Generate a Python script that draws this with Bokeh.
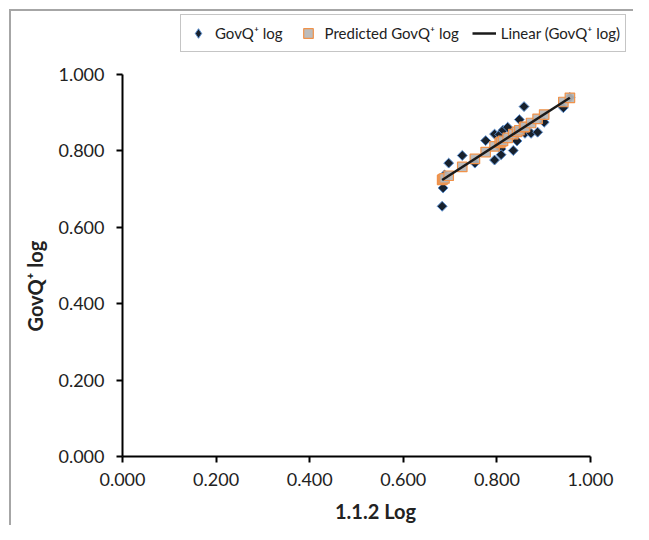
import math
from bokeh.plotting import figure
from bokeh.models import Legend, LegendItem, Range1d, FixedTicker, NumeralTickFormatter, Title
from bokeh.embed import file_html
from bokeh.resources import INLINE

# Observed values (1.1.2 Log vs GovQ+ log)
obs_x = [0.683, 0.685, 0.688, 0.697, 0.726, 0.753, 0.776, 0.795, 0.795, 0.806, 0.809, 0.809,
         0.813, 0.823, 0.835, 0.843, 0.848, 0.858, 0.860, 0.873, 0.887, 0.901, 0.942, 0.956]
obs_y = [0.655, 0.703, 0.737, 0.768, 0.788, 0.768, 0.827, 0.844, 0.776, 0.843, 0.805, 0.790,
         0.854, 0.862, 0.801, 0.826, 0.882, 0.916, 0.846, 0.846, 0.849, 0.875, 0.913, 0.940]

# Predicted values
pred_x = [0.683, 0.685, 0.688, 0.697, 0.726, 0.753, 0.776, 0.795, 0.806, 0.809, 0.813, 0.823,
          0.835, 0.843, 0.848, 0.858, 0.860, 0.873, 0.887, 0.901, 0.942, 0.956]
pred_y = [0.724, 0.726, 0.728, 0.735, 0.758, 0.779, 0.797, 0.812, 0.821, 0.823, 0.826, 0.834,
          0.844, 0.850, 0.854, 0.862, 0.863, 0.873, 0.884, 0.895, 0.928, 0.939]

# Linear trend line end points
trend_x = [0.683, 0.956]
trend_y = [0.724, 0.939]

ticks = [0.0, 0.2, 0.4, 0.6, 0.8, 1.0]

FONT = "Lato"
TXT = "#222222"
OBS_FILL, OBS_LINE = "#17202c", "#5b8fd0"
PRED_FILL, PRED_LINE = "#b5b5b5", "#f0924a"

# frame extends beyond 1.0 (up and right) to host the legend; axes are bounded to 0..1
X_END = 506 / 468
Y_END = 1 + 60 / 382

p = figure(frame_width=506, frame_height=442,
           min_border_left=100, min_border_right=5, min_border_top=3, min_border_bottom=68,
           x_range=Range1d(0, X_END), y_range=Range1d(0, Y_END),
           output_backend="svg", toolbar_location=None,
           background_fill_color="white", border_fill_color="white",
           styles={"border-left": "2px solid #a6a6a6", "border-top": "2px solid #a6a6a6",
                   "margin-left": "9px", "margin-top": "9px"})
p.outline_line_color = None
p.grid.visible = False

for ax in (p.xaxis[0], p.yaxis[0]):
    ax.bounds = (0, 1)
    ax.ticker = FixedTicker(ticks=ticks)
    ax.formatter = NumeralTickFormatter(format="0.000")
    ax.axis_line_color = "black"
    ax.axis_line_width = 2
    ax.major_tick_line_color = "black"
    ax.major_tick_line_width = 2
    ax.major_tick_in = 0
    ax.major_tick_out = 6
    ax.minor_tick_line_color = None
    ax.major_label_text_font = FONT
    ax.major_label_text_font_size = "18px"
    ax.major_label_text_color = TXT
    ax.axis_label_text_font = FONT
    ax.axis_label_text_font_style = "bold"
    ax.axis_label_text_font_size = "20px"
    ax.axis_label_text_color = TXT

p.xaxis[0].major_label_standoff = 10
p.yaxis[0].major_label_standoff = 12
p.xaxis[0].axis_label = "1.1.2 Log"
p.xaxis[0].axis_label_standoff = 10

ytitle = Title(text="GovQ\u207a log", align="left", offset=125, standoff=18,
               text_font=FONT, text_font_style="bold", text_font_size="20px",
               text_color=TXT)
p.add_layout(ytitle, "left")

r_obs = p.scatter(obs_x, obs_y, marker="square", angle=math.pi / 4, size=7,
                  fill_color=OBS_FILL, line_color=OBS_LINE, line_width=1)
r_pred = p.scatter(pred_x, pred_y, marker="square", size=9.5,
                   fill_color=PRED_FILL, fill_alpha=0.9, line_color=PRED_LINE, line_width=1.2)
r_lin = p.line(trend_x, trend_y, line_color="#1a1a1a", line_width=2.5)

# legend-only stand-in so the key shows a diamond
r_obs_key = p.scatter(obs_x, obs_y, marker="diamond", size=10,
                      fill_color=OBS_FILL, line_color=OBS_LINE, line_width=1, visible=False)

legend = Legend(items=[LegendItem(label="GovQ\u207a log", renderers=[r_obs_key]),
                       LegendItem(label="Predicted GovQ\u207a log", renderers=[r_pred]),
                       LegendItem(label="Linear (GovQ\u207a log)", renderers=[r_lin])],
                orientation="horizontal", location=(58, 404),
                label_text_font=FONT, label_text_font_size="15px", label_text_color=TXT,
                glyph_width=24, glyph_height=26, label_standoff=5, spacing=13,
                padding=5, margin=0,
                border_line_color="#8c8c8c", border_line_width=1,
                background_fill_color="white", background_fill_alpha=1)
p.add_layout(legend, "center")

open("out.html", "w").write(file_html(p, INLINE))
